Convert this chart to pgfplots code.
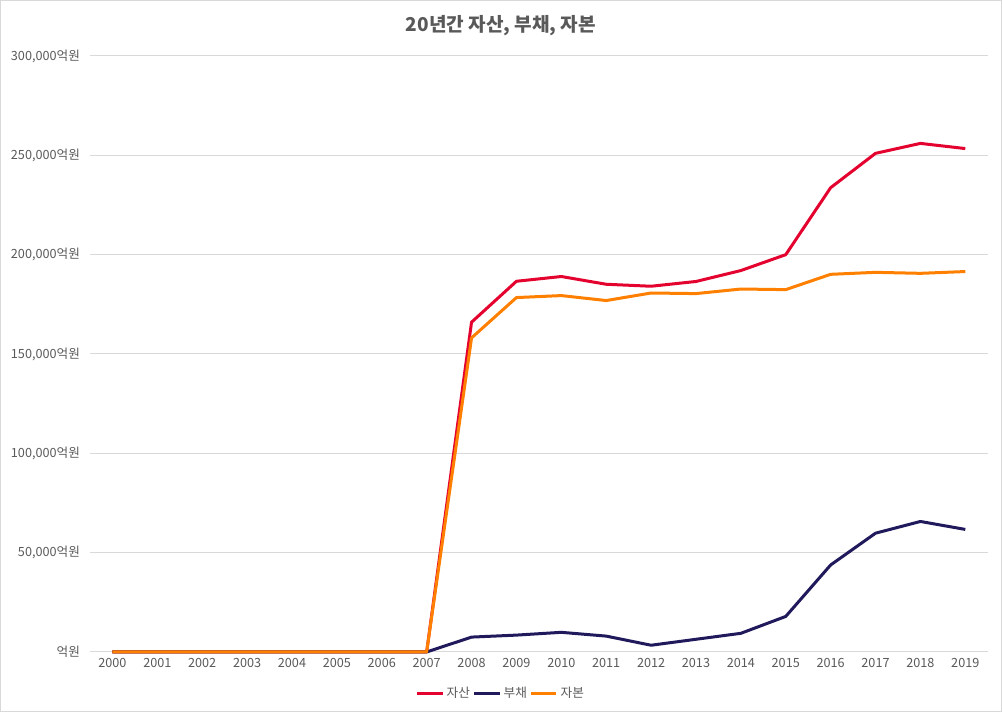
\documentclass[border=0pt]{standalone}
\usepackage{pgfplots}
\pgfplotsset{compat=1.18}
\usepackage{fontspec}
\setmainfont{Noto Sans CJK KR}
\definecolor{txt}{HTML}{595959}
\definecolor{grid}{HTML}{D9D9D9}
\definecolor{cA}{HTML}{E4032E}
\definecolor{cB}{HTML}{201A5C}
\definecolor{cC}{HTML}{FF8000}
\begin{document}
\begin{tikzpicture}
\draw[grid,line width=0.75pt] (0.375pt,0.375pt) rectangle (751.125pt,533.625pt);
\node[text=txt,font=\fontsize{14.3}{16}\selectfont\bfseries] at (375.75pt,514.5pt) {20년간 자산, 부채, 자본};
\begin{axis}[
  at={(67.5pt,45pt)}, anchor=south west,
  scale only axis, width=673.3pt, height=447pt,
  xmin=-0.5, xmax=19.5, ymin=0, ymax=300000,
  xtick={0,...,19},
  xticklabels={2000,2001,2002,2003,2004,2005,2006,2007,2008,2009,2010,2011,2012,2013,2014,2015,2016,2017,2018,2019},
  ytick={0,50000,100000,150000,200000,250000,300000},
  yticklabels={억원,{50,000억원},{100,000억원},{150,000억원},{200,000억원},{250,000억원},{300,000억원}},
  scaled y ticks=false,
  ymajorgrids, xmajorgrids=false,
  y grid style={grid,line width=0.75pt},
  axis line style={draw=none},
  major tick length=0pt,
  tick label style={text=txt,font=\fontsize{9.5}{11}\selectfont},
  yticklabel style={xshift=-4pt},
  xticklabel style={yshift=-1pt},
  legend style={at={(0.458,-0.05)},anchor=north,draw=none,fill=none,legend columns=3,
    font=\fontsize{9.5}{11}\selectfont,text=txt,
    /tikz/every even column/.append style={column sep=0pt}},
  legend image code/.code={\draw[#1,line width=2.25pt] (0pt,0pt) -- (19pt,0pt);},
  legend cell align=left,
  every axis plot/.append style={line width=2.25pt, line join=round, mark=none},
  clip=false,
]
\addplot[cA] coordinates {(0,0)(1,0)(2,0)(3,0)(4,0)(5,0)(6,0)(7,0)
 (8,166000)(9,186600)(10,189000)(11,185100)(12,184100)(13,186500)(14,192000)(15,200000)(16,233700)(17,251000)(18,256000)(19,253400)};
\addlegendentry{자산}
\addplot[cB] coordinates {(0,0)(1,0)(2,0)(3,0)(4,0)(5,0)(6,0)(7,0)
 (8,7500)(9,8500)(10,9900)(11,8000)(12,3400)(13,6400)(14,9400)(15,17900)(16,43800)(17,59800)(18,65700)(19,61700)};
\addlegendentry{부채}
\addplot[cC] coordinates {(0,0)(1,0)(2,0)(3,0)(4,0)(5,0)(6,0)(7,0)
 (8,158100)(9,178400)(10,179400)(11,176900)(12,180700)(13,180400)(14,182700)(15,182400)(16,190100)(17,191100)(18,190600)(19,191500)};
\addlegendentry{자본}
\end{axis}
\end{tikzpicture}
\end{document}
